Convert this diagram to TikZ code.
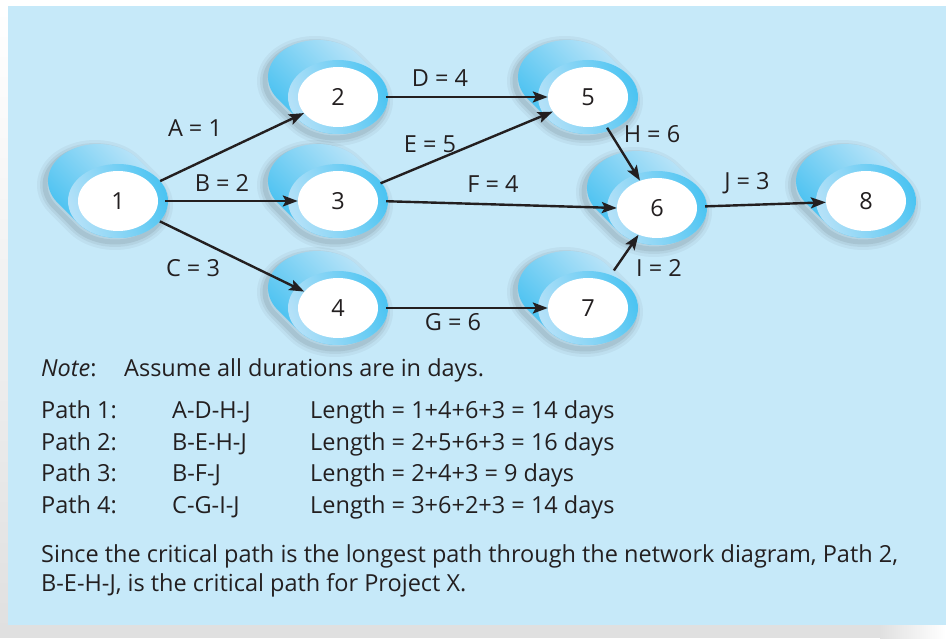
\documentclass[tikz,border=0pt]{standalone}
\usepackage{fontspec}
\setmainfont{Open Sans}
\usetikzlibrary{arrows.meta,shapes.geometric}
\definecolor{panel}{RGB}{198,233,249}
\definecolor{cyldeep}{RGB}{62,190,240}
\definecolor{cylpale}{RGB}{200,232,249}
\definecolor{ringpale}{RGB}{180,225,248}
\definecolor{ringdeep}{RGB}{76,196,242}
\definecolor{ink}{RGB}{35,31,32}

\tikzset{
  stage/.style={ellipse, fill=white, minimum width=80pt, minimum height=60pt, inner sep=0pt},
  task/.style={-{Stealth[length=15pt,width=11pt,inset=3pt]}, line width=2.4pt, draw=ink},
  dur/.style={inner sep=0pt},
  txt/.style={anchor=base west, inner sep=0pt},
}
% outline of one node: front ellipse swept up-left
\newcommand{\cylpath}{(-40.19,-22.01) arc[start angle=216.5, end angle=396.5, x radius=50, y radius=37]
  -- (20.19,42.01) arc[start angle=36.5, end angle=216.5, x radius=50, y radius=37] -- cycle}
\newcommand{\pertnode}[3]{%
  \begin{scope}[shift={#2}]
    \foreach \w/\o in {16/0.04,10/0.05,5/0.07}
      \draw[line width=\w pt, opacity=\o, xshift=-3pt, yshift=-4pt] \cylpath;
    \shade[left color=cyldeep, right color=cylpale, shading angle=135] \cylpath;
    \shade[left color=ringpale, right color=ringdeep, shading angle=110] (0,0) ellipse[x radius=50, y radius=37];
  \end{scope}
  \node[stage] (#1) at #2 {#3};
}

\begin{document}
\begin{tikzpicture}[x=1pt, y=1pt, font=\fontsize{23.5}{28}\selectfont, text=ink]
  \useasboundingbox (0,0) rectangle (946,638);
  \fill[white] (0,0) rectangle (946,638);
  \fill[black!12] (0,0) rectangle (880,13);
  \shade[left color=black!12, right color=white] (880,0) rectangle (946,13);
  \shade[top color=white, bottom color=black!12] (0,13) rectangle (8,632);
  \fill[panel] (8,13) rectangle (946,632);

  \pertnode{n1}{(118,437)}{1}
  \pertnode{n2}{(338,541)}{2}
  \pertnode{n3}{(338,437)}{3}
  \pertnode{n4}{(338,330)}{4}
  \pertnode{n5}{(588,541)}{5}
  \pertnode{n6}{(657,430)}{6}
  \pertnode{n7}{(588,330)}{7}
  \pertnode{n8}{(866,437)}{8}

  \draw[task, shorten <=9pt] (n1) -- (n2);
  \draw[task, shorten <=7pt] (n1.east) -- (n3.west);
  \draw[task, shorten <=9pt] (n1) -- (n4);
  \draw[task, shorten <=8pt] (n2) -- (n5);
  \draw[task, shorten <=8pt] (n3) -- (n5);
  \draw[task, shorten <=8pt] (n3.east) -- (n6.west);
  \draw[task, shorten <=8pt] (n4) -- (n7);
  \draw[task, shorten <=4pt] (n5) -- (n6);
  \draw[task, shorten <=13pt] (n7) -- (n6);
  \draw[task, shorten <=8pt] (n6) -- (n8);

  \node[dur] (dA) at (195,510) {A = 1};
  \node[dur] (dB) at (222,455) {B = 2};
  \node[dur] (dC) at (193,370) {C = 3};
  \node[dur] (dD) at (440,560) {D = 4};
  \node[dur] (dE) at (430,494) {E = 5};
  \node[dur] (dF) at (493,454) {F = 4};
  \node[dur] (dG) at (453,316) {G = 6};
  \node[dur] (dH) at (652,504) {H = 6};
  \node[dur] (dI) at (659,370) {I = 2};
  \node[dur] (dJ) at (747,455) {J = 3};

  \node[txt] (note) at (41,261.3) {\textit{Note}:};
  \node[txt] (assume) at (124,261.3) {Assume all durations are in days.};
  \node[txt] (p1) at (41,219) {Path 1:};
  \node[txt] (p2) at (41,187.3) {Path 2:};
  \node[txt] (p3) at (41,156.3) {Path 3:};
  \node[txt] (p4) at (41,124) {Path 4:};
  \node[txt] (s1) at (172,219) {A-D-H-J};
  \node[txt] (s2) at (172,187.3) {B-E-H-J};
  \node[txt] (s3) at (172,156.3) {B-F-J};
  \node[txt] (s4) at (172,124) {C-G-I-J};
  \node[txt] (l1) at (310,219) {Length = 1+4+6+3 = 14 days};
  \node[txt] (l2) at (310,187.3) {Length = 2+5+6+3 = 16 days};
  \node[txt] (l3) at (310,156.3) {Length = 2+4+3 = 9 days};
  \node[txt] (l4) at (310,124) {Length = 3+6+2+3 = 14 days};
  \node[txt] (con1) at (41,75.7) {Since the critical path is the longest path through the network diagram, Path 2,};
  \node[txt] (con2) at (41,47) {B-E-H-J, is the critical path for Project X.};
\end{tikzpicture}
\end{document}
